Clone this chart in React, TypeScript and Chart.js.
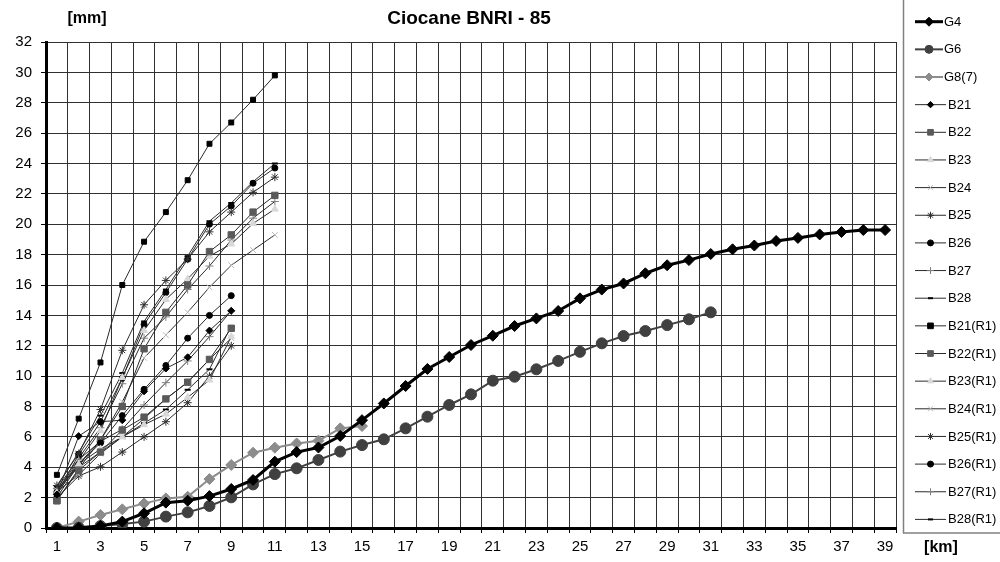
import React, { useEffect, useRef } from 'react';
import { Chart, registerables } from 'chart.js';
import { drawPoint } from 'chart.js/helpers';

Chart.register(...registerables);

const TITLE = 'Ciocane BNRI - 85';
const Y_UNIT = '[mm]';
const X_UNIT = '[km]';

const xLabels = ['1', '2', '3', '4', '5', '6', '7', '8', '9', '10', '11', '12', '13', '14', '15', '16', '17', '18', '19', '20',
  '21', '22', '23', '24', '25', '26', '27', '28', '29', '30', '31', '32', '33', '34', '35', '36', '37', '38', '39'];

const G4 = [0, 0.02, 0.13, 0.42, 0.97, 1.67, 1.8, 2.1, 2.57, 3.16, 4.37, 5.0, 5.3, 6.06, 7.1, 8.2, 9.35, 10.47, 11.26, 12.05,
  12.66, 13.3, 13.8, 14.29, 15.12, 15.7, 16.1, 16.77, 17.3, 17.64, 18.04, 18.35, 18.6, 18.9, 19.1, 19.33, 19.49, 19.62, 19.62];
const G6 = [0, 0.02, 0.13, 0.26, 0.42, 0.75, 1.03, 1.45, 2.02, 2.87, 3.55, 3.93, 4.48, 5.03, 5.46, 5.84, 6.56, 7.33, 8.1, 8.8,
  9.7, 9.96, 10.45, 11.0, 11.6, 12.16, 12.64, 12.97, 13.36, 13.74, 14.2];
const G8 = [0, 0.42, 0.86, 1.23, 1.62, 1.95, 2.06, 3.22, 4.15, 4.96, 5.29, 5.57, 5.75, 6.56, 6.71];

const B21 = [2.2, 6.05, 7.0, 7.1, 9.0, 10.5, 11.24, 13.0, 14.3];
const B22 = [1.8, 3.8, 5.0, 6.45, 7.3, 8.5, 9.6, 11.1, 13.15];
const B23 = [2.3, 4.2, 5.2, 6.0, 6.8, 7.5, 8.6, 9.74, 12.6];
const B24 = [2.4, 3.5, 4.9, 6.0, 7.2, 8.5, 9.6, 11.1, 12.5];
const B25 = [2.0, 3.42, 4.03, 5.0, 6.0, 7.0, 8.25, 10.0, 12.0];
const B26 = [2.0, 4.2, 5.6, 7.4, 9.13, 10.7, 12.5, 14.0, 15.3];
const B27 = [2.4, 4.5, 5.7, 6.5, 8.1, 9.57, 11.0, 12.6, 14.3];
const B28 = [2.5, 4.0, 5.0, 6.0, 6.9, 7.8, 9.1, 10.45, 13.3];

const B21R1 = [3.5, 7.2, 10.9, 16.0, 18.85, 20.8, 22.9, 25.3, 26.7, 28.2, 29.8];
const B22R1 = [1.8, 3.9, 5.8, 8.0, 11.8, 14.2, 16.0, 18.2, 19.3, 20.8, 21.9];
const B23R1 = [2.2, 4.4, 6.4, 9.9, 13.0, 15.05, 16.4, 17.9, 18.7, 20.05, 21.0];
const B24R1 = [2.5, 4.2, 5.8, 8.3, 11.2, 12.7, 14.2, 15.85, 17.3, 18.3, 19.3];
const B25R1 = [2.8, 4.9, 7.8, 11.7, 14.7, 16.3, 17.7, 19.5, 20.8, 22.1, 23.1];
const B26R1 = [2.3, 4.8, 7.0, 9.86, 13.4, 15.5, 17.7, 20.0, 21.2, 22.7, 23.7];
const B27R1 = [2.6, 4.6, 6.6, 9.5, 12.5, 13.9, 15.7, 17.25, 18.96, 20.4, 21.5];
const B28R1 = [2.7, 5.0, 7.4, 10.2, 13.6, 15.7, 17.9, 20.2, 21.4, 22.8, 24.0];

const seriesNames = ['G4', 'G6', 'G8(7)', 'B21', 'B22', 'B23', 'B24', 'B25', 'B26', 'B27', 'B28',
  'B21(R1)', 'B22(R1)', 'B23(R1)', 'B24(R1)', 'B25(R1)', 'B26(R1)', 'B27(R1)', 'B28(R1)'];
const seriesData = [G4, G6, G8, B21, B22, B23, B24, B25, B26, B27, B28,
  B21R1, B22R1, B23R1, B24R1, B25R1, B26R1, B27R1, B28R1];

type Style = { line: string; lw: number; marker: string; style: string; r: number; lr: number };
const bigStyles: Style[] = [
  { line: '#000000', lw: 3, marker: '#000000', style: 'rectRot', r: 5.5, lr: 4.5 },
  { line: '#404040', lw: 2, marker: '#404040', style: 'circle', r: 5.5, lr: 4 },
  { line: '#8c8c8c', lw: 2, marker: '#8c8c8c', style: 'rectRot', r: 5.5, lr: 4 },
];
const smallMarkers = [
  { marker: '#000000', style: 'rectRot', r: 3.5, lr: 3.2 },
  { marker: '#5a5a5a', style: 'rect', r: 4.5, lr: 4 },
  { marker: '#d8d8d8', style: 'triangle', r: 4, lr: 3.5 },
  { marker: '#b8b8b8', style: 'crossRot', r: 4, lr: 3.5 },
  { marker: '#303030', style: 'star', r: 4, lr: 3.5 },
  { marker: '#000000', style: 'circle', r: 3, lr: 3 },
  { marker: '#808080', style: 'cross', r: 4, lr: 3.5 },
  { marker: '#000000', style: 'line', r: 3, lr: 2.5 },
];
const styles: Style[] = [
  ...bigStyles,
  ...smallMarkers.map((m) => ({ line: '#2a2a2a', lw: 1, ...m })),
  ...smallMarkers.map((m, i) => ({ line: '#2a2a2a', lw: 1, ...m, r: i === 0 ? 3.5 : m.r, style: i === 0 ? 'rect' : m.style, lr: i === 0 ? 4 : m.lr })),
];

const FONT = 'Arial, "Liberation Sans", sans-serif';

const decorPlugin = {
  id: 'decor',
  afterDraw(chart: any) {
    const ctx = chart.ctx as CanvasRenderingContext2D;
    ctx.save();
    ctx.fillStyle = '#000';
    ctx.textBaseline = 'middle';
    ctx.textAlign = 'center';
    ctx.font = `bold 19px ${FONT}`;
    ctx.fillText(TITLE, 469, 19);
    ctx.font = `bold 16px ${FONT}`;
    ctx.fillText(Y_UNIT, 87, 19);
    ctx.fillText(X_UNIT, 941, 548);

    ctx.strokeStyle = '#808080';
    ctx.lineWidth = 1.5;
    ctx.strokeRect(903.5, -5, 120, 538);

    chart.data.datasets.forEach((ds: any, i: number) => {
      const y = 21.7 + i * 27.65;
      const big = i < 3;
      ctx.strokeStyle = ds.borderColor;
      ctx.lineWidth = ds.borderWidth;
      ctx.beginPath();
      ctx.moveTo(915, y);
      ctx.lineTo(big ? 943 : 946, y);
      ctx.stroke();
      ctx.fillStyle = ds.pointBackgroundColor;
      ctx.strokeStyle = ds.pointBorderColor;
      ctx.lineWidth = ds.pointStyle === 'line' ? 2 : 1;
      drawPoint(ctx, { pointStyle: ds.pointStyle, radius: ds.legendRadius, rotation: 0, borderWidth: ds.pointStyle === 'line' ? 2 : 1 } as any, big ? 929 : 930.5, y);
      ctx.fillStyle = '#000';
      ctx.font = `13px ${FONT}`;
      ctx.textAlign = 'left';
      ctx.fillText(ds.label, big ? 944 : 948, y + 0.5);
    });
    ctx.restore();
  },
};

export default function App() {
  const ref = useRef<HTMLCanvasElement | null>(null);
  useEffect(() => {
    document.body.style.margin = '0';
    const canvas = ref.current;
    if (!canvas) return;
    const datasets = seriesData.map((d, i) => {
      const s = styles[i];
      return {
        label: seriesNames[i],
        data: d,
        borderColor: s.line,
        borderWidth: s.lw,
        backgroundColor: s.marker,
        pointStyle: s.style,
        pointRadius: s.r,
        pointBackgroundColor: s.marker,
        pointBorderColor: s.marker,
        pointBorderWidth: s.style === 'line' ? 2 : 1,
        legendRadius: s.lr,
        tension: 0,
        fill: false,
      };
    });
    const chart = new Chart(canvas, {
      type: 'line',
      data: { labels: xLabels, datasets: datasets as any },
      options: {
        responsive: false,
        animation: false,
        events: [],
        layout: { padding: { left: 0, top: 42, right: 104, bottom: 0 } },
        plugins: { legend: { display: false }, title: { display: false }, tooltip: { enabled: false } },
        scales: {
          x: {
            type: 'category',
            offset: true,
            afterFit: (scale: any) => { scale.height = 34; },
            grid: { offset: true, color: '#303030', lineWidth: 1, tickLength: 5, tickColor: '#000' },
            border: { color: '#000', width: 3 },
            ticks: {
              autoSkip: false,
              maxRotation: 0,
              padding: 5,
              color: '#000',
              font: { family: FONT, size: 15 },
              callback: (_v: any, i: number) => (i % 2 === 0 ? xLabels[i] : ''),
            },
          },
          y: {
            min: 0,
            max: 32,
            afterFit: (scale: any) => { scale.width = 46; },
            grid: { color: '#303030', lineWidth: 1, tickLength: 5, tickColor: '#000' },
            border: { color: '#000', width: 3 },
            ticks: { stepSize: 2, padding: 9, color: '#000', font: { family: FONT, size: 15 } },
          },
        },
      },
      plugins: [decorPlugin],
    });
    return () => chart.destroy();
  }, []);
  return <canvas ref={ref} width={1000} height={562} style={{ display: 'block' }} />;
}
